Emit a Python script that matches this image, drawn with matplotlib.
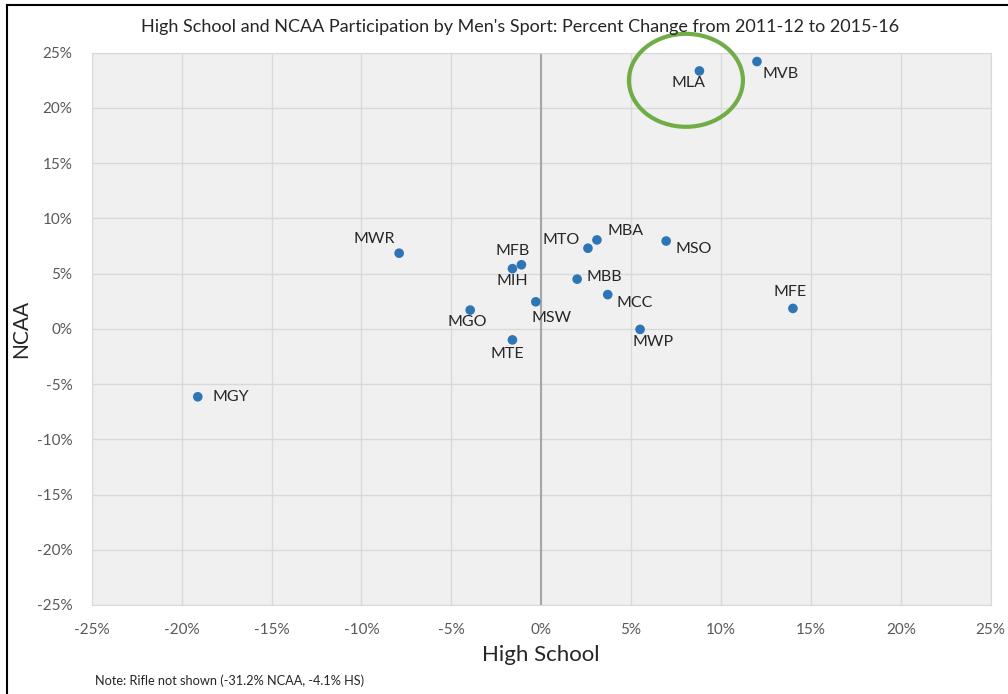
import matplotlib.pyplot as plt
from matplotlib.patches import Ellipse
from matplotlib.lines import Line2D
from matplotlib.ticker import FuncFormatter, MultipleLocator

plt.rcParams['font.family'] = ['Lato', 'DejaVu Sans']

sports = ['MVB', 'MLA', 'MWR', 'MFB', 'MIH', 'MTO', 'MBA', 'MSO',
          'MBB', 'MCC', 'MSW', 'MGO', 'MTE', 'MWP', 'MFE', 'MGY']
high_school = [12.0, 8.8, -7.9, -1.1, -1.6, 2.6, 3.1, 6.95,
               2.0, 3.7, -0.3, -3.95, -1.6, 5.5, 14.0, -19.1]
ncaa = [24.2, 23.35, 6.85, 5.8, 5.45, 7.3, 8.05, 7.95,
        4.5, 3.1, 2.45, 1.7, -1.0, -0.05, 1.85, -6.15]
# label offsets in pixels from each dot (x right, y up)
label_off = [(24, -12), (-11, -12), (-25, 14), (-9, 14), (0, -12), (-27, 8), (29, 9), (28, -8),
             (27, 2), (27, -8), (16, -16), (-3, -12), (-5, -14), (13, -13), (-3, 16), (33, 0)]

fig = plt.figure(figsize=(10.08, 6.94), dpi=100)
ax = fig.add_axes([91.7 / 1008, 1 - 605 / 694, 899 / 1008, 552.3 / 694])
ax.set_facecolor('#f0f0f0')
ax.set_xlim(-25, 25)
ax.set_ylim(-25, 25)
ax.xaxis.set_major_locator(MultipleLocator(5))
ax.yaxis.set_major_locator(MultipleLocator(5))
pct = FuncFormatter(lambda v, p: f'{v:.0f}%')
ax.xaxis.set_major_formatter(pct)
ax.yaxis.set_major_formatter(pct)
ax.grid(True, color='#d9d9d9', linewidth=1)
ax.set_axisbelow(True)
ax.axvline(0, color='#a6a6a6', linewidth=1.5, zorder=1.5)
for s in ax.spines.values():
    s.set_color('#d9d9d9')
ax.tick_params(length=0, labelsize=11, colors='#595959')
ax.tick_params(axis='x', pad=13)
ax.tick_params(axis='y', pad=14)

ax.scatter(high_school, ncaa, s=48, color='#2e75b6', zorder=3, edgecolors='none')
for name, x, y, off in zip(sports, high_school, ncaa, label_off):
    ax.annotate(name, (x, y), xytext=off, textcoords='offset pixels',
                ha='center', va='center', fontsize=11.5, color='#262626')

ax.add_patch(Ellipse((8.05, 22.5), 114 / 17.98, 93 / 11.05, fill=False, clip_on=False,
                     edgecolor='#70ad47', linewidth=3, zorder=4))

ax.set_xlabel('High School', fontsize=16, color='#262626', labelpad=6)
ax.set_ylabel('NCAA', fontsize=15, color='#262626', labelpad=4)
fig.text(520 / 1008, 1 - 27 / 694, 'High School and NCAA Participation by Men\'s Sport: Percent Change from 2011-12 to 2015-16',
         ha='center', va='center', fontsize=13, color='#262626')
fig.text(95 / 1008, 1 - 681 / 694, 'Note: Rifle not shown (-31.2% NCAA, -4.1% HS)',
         ha='left', va='center', fontsize=9.2, color='#262626')

# frame lines at top and left of the image
fig.add_artist(Line2D([7 / 1008, 1], [1 - 5 / 694, 1 - 5 / 694], color='black', linewidth=1.5))
fig.add_artist(Line2D([7 / 1008, 7 / 1008], [0, 1 - 5 / 694], color='black', linewidth=1.5))

fig.savefig('out.png', dpi=100)
